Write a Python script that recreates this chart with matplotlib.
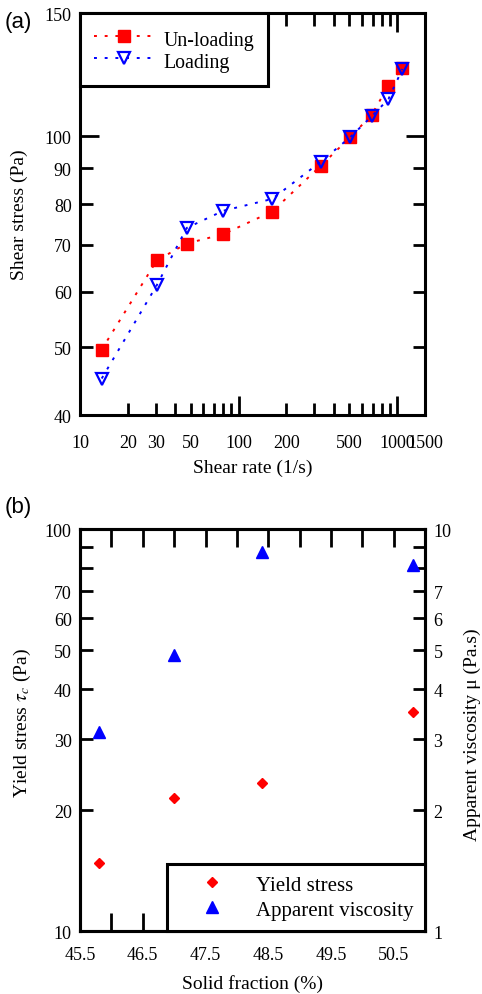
import matplotlib
matplotlib.use("Agg")
import matplotlib.pyplot as plt
from matplotlib.ticker import FixedLocator, FuncFormatter

# (a) shear stress vs shear rate
rate_unload = [13.7, 30.5, 47.1, 80.2, 163, 330, 505, 690, 880, 1079]
stress_unload = [49.6, 66.5, 70.3, 72.5, 78.1, 90.8, 99.7, 107.3, 118.1, 125.2]
rate_load = [13.7, 30.5, 47.1, 80.2, 163, 330, 505, 690, 880, 1079]
stress_load = [45.1, 61.3, 74.0, 78.3, 81.4, 92.0, 99.7, 106.8, 113.0, 124.8]

xlab_a = [10, 20, 30, 50, 100, 200, 500, 1000, 1500]
ylab_a = [40, 50, 60, 70, 80, 90, 100, 150]

# (b) yield stress / viscosity vs solid fraction
solid_frac = [45.8, 47.0, 48.4, 50.8]
yield_stress = [14.8, 21.4, 23.3, 35.1]
app_visc = [3.12, 4.87, 8.75, 8.15]

xlab_b = [45.5, 46.5, 47.5, 48.5, 49.5, 50.5]
ylab_b = [10, 20, 30, 40, 50, 60, 70, 100]
ylab_b2 = [1, 2, 3, 4, 5, 6, 7, 10]

plt.rcParams["font.family"] = ["Liberation Serif", "DejaVu Serif"]
plt.rcParams["mathtext.fontset"] = "stix"

TICK_FS = 13
LAB_FS = 14
DOT = (0, (1.5, 4))


def only(vals):
    def fmt(v, pos):
        for w in vals:
            if abs(v - w) < 1e-6 * max(1, abs(w)):
                return f"{w:g}"
        return ""
    return FuncFormatter(fmt)


def box(ax):
    for s in ax.spines.values():
        s.set_linewidth(2.2)


fig = plt.figure(figsize=(4.82, 9.95), dpi=100)

# ---------------- (a)
ax1 = fig.add_axes([0.166, 0.5819, 0.716, 0.404])
ax1.set_xscale("log")
ax1.set_yscale("log")
ax1.plot(rate_unload, stress_unload, color="red", ls=DOT, lw=1.4,
         marker="s", ms=8, label="Un-loading")
ax1.plot(rate_load, stress_load, color="blue", ls=DOT, lw=1.4,
         marker="v", ms=8, mfc="none", mec="blue", mew=1.6, label="Loading")
ax1.set_xlim(10, 1500)
ax1.set_ylim(40, 150)

ax1.xaxis.set_major_locator(FixedLocator([10, 100, 1000]))
ax1.xaxis.set_minor_locator(FixedLocator(
    [20, 30, 40, 50, 60, 70, 80, 90, 200, 300, 400, 500, 600, 700, 800, 900, 1500]))
ax1.xaxis.set_major_formatter(only(xlab_a))
ax1.xaxis.set_minor_formatter(only(xlab_a))
ax1.yaxis.set_major_locator(FixedLocator([40, 100, 150]))
ax1.yaxis.set_minor_locator(FixedLocator([50, 60, 70, 80, 90]))
ax1.yaxis.set_major_formatter(only(ylab_a))
ax1.yaxis.set_minor_formatter(only(ylab_a))
ax1.tick_params(which="both", direction="in", top=True, right=True,
                width=2, labelsize=TICK_FS, pad=6)
ax1.tick_params(axis="x", which="both", pad=14)
ax1.tick_params(which="major", length=14)
ax1.tick_params(which="minor", length=9)
box(ax1)

ax1.set_xlabel("Shear rate (1/s)", fontsize=LAB_FS)
ax1.set_ylabel("Shear stress (Pa)", fontsize=LAB_FS)
ax1.yaxis.set_label_coords(-0.15, 0.5)
ax1.xaxis.set_label_coords(0.5, -0.108)

leg1 = ax1.legend(loc="upper left", bbox_to_anchor=(0, 1), borderaxespad=0,
                  fancybox=False, edgecolor="black", framealpha=1,
                  fontsize=14.3, handlelength=3.0, handletextpad=0.5,
                  handleheight=1.32, labelspacing=0.0, borderpad=0.7)
leg1.get_frame().set_linewidth(2.2)

fig.text(0.01, 0.988, "(a)", fontsize=16, family="Liberation Sans", va="top")

# ---------------- (b)
ax2 = fig.add_axes([0.166, 0.0633, 0.716, 0.404])
ax2.set_yscale("log")
ax2.plot(solid_frac, yield_stress, ls="none", marker="D", ms=5.5,
         color="red", label="Yield stress")
ax2.set_xlim(45.5, 51.0)
ax2.set_ylim(10, 100)

ax3 = ax2.twinx()
ax3.set_yscale("log")
ax3.plot(solid_frac, app_visc, ls="none", marker="^", ms=8,
         color="blue", label="Apparent viscosity")
ax3.set_ylim(1, 10)

ax2.xaxis.set_major_locator(FixedLocator([45.5 + 0.5 * k for k in range(12)]))
ax2.xaxis.set_major_formatter(only(xlab_b))
ax2.yaxis.set_major_locator(FixedLocator([10, 100]))
ax2.yaxis.set_minor_locator(FixedLocator([20, 30, 40, 50, 60, 70, 80, 90]))
ax2.yaxis.set_major_formatter(only(ylab_b))
ax2.yaxis.set_minor_formatter(only(ylab_b))
ax2.tick_params(axis="x", which="both", direction="in", top=True,
                width=2, length=13, labelsize=TICK_FS, pad=11)
ax2.tick_params(axis="y", which="both", direction="in", right=False,
                width=2, length=9, labelsize=TICK_FS, pad=6)

ax3.yaxis.set_major_locator(FixedLocator([1, 10]))
ax3.yaxis.set_minor_locator(FixedLocator([2, 3, 4, 5, 6, 7, 8, 9]))
ax3.yaxis.set_major_formatter(only(ylab_b2))
ax3.yaxis.set_minor_formatter(only(ylab_b2))
ax3.tick_params(axis="y", which="both", direction="in", width=2, length=9,
                labelsize=TICK_FS, pad=6)
box(ax2)
box(ax3)

ax2.set_xlabel("Solid fraction (%)", fontsize=LAB_FS)
ax2.set_ylabel(r"Yield stress $\tau_c$ (Pa)", fontsize=LAB_FS)
ax3.set_ylabel("Apparent viscosity μ (Pa.s)", fontsize=LAB_FS)
ax2.yaxis.set_label_coords(-0.136, 0.52)
ax3.yaxis.set_label_coords(1.113, 0.49)
ax2.xaxis.set_label_coords(0.5, -0.108)

h2, l2 = ax2.get_legend_handles_labels()
h3, l3 = ax3.get_legend_handles_labels()
leg2 = ax3.legend(h2 + h3, l2 + l3, loc="lower right", bbox_to_anchor=(1, 0),
                  borderaxespad=0, fancybox=False, edgecolor="black",
                  framealpha=1, fontsize=15, handlelength=3.3,
                  handletextpad=0.45, labelspacing=0.25, borderpad=0.55)
leg2.get_frame().set_linewidth(2.2)

fig.text(0.01, 0.501, "(b)", fontsize=16, family="Liberation Sans", va="top")

fig.savefig("out.png", dpi=100)
